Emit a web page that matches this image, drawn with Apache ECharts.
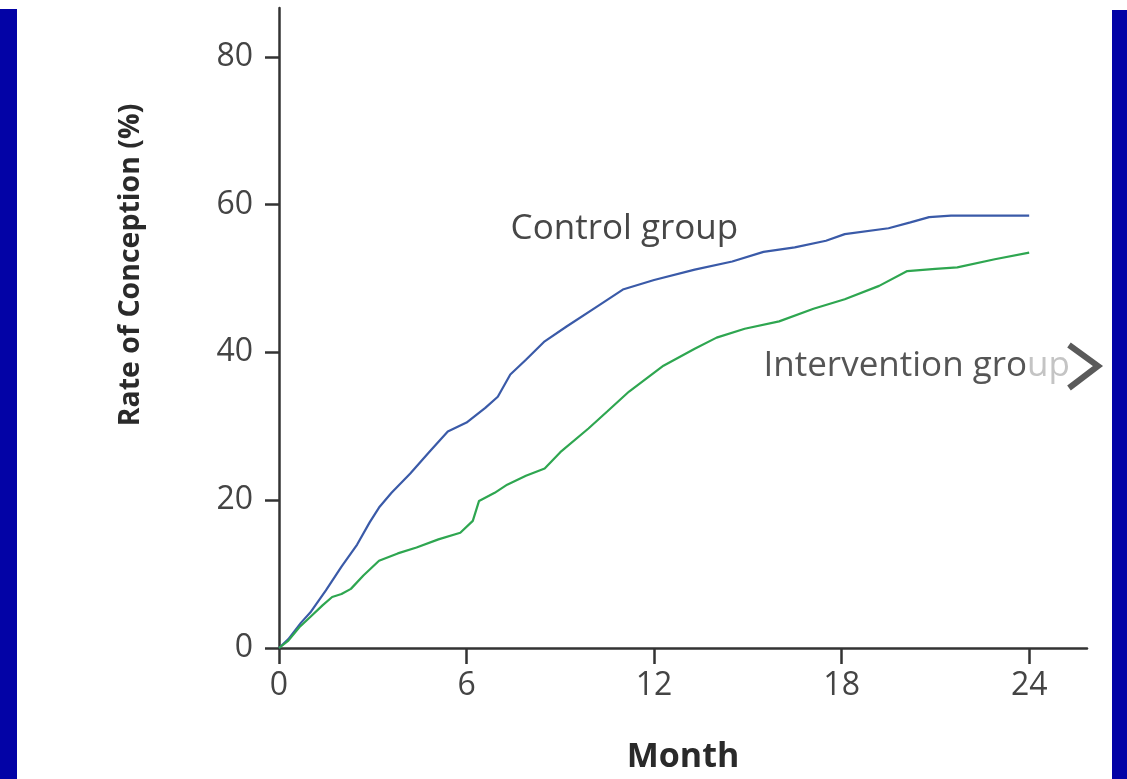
<!DOCTYPE html>
<html>
<head>
<meta charset="utf-8">
<script src="https://cdn.jsdelivr.net/npm/echarts@6/dist/echarts.min.js"></script>
<style>
html,body{margin:0;padding:0;background:#fff;}
#c{width:1127px;height:779px;}
</style>
</head>
<body>
<div id="c"></div>
<script>
// ---- data ----
const xTicks = [0, 6, 12, 18, 24];
const yTicks = [0, 20, 40, 60, 80];
const seriesNames = ['Control group', 'Intervention group'];
const controlMonths = [0,0.3,0.7,1.0,1.5,2.0,2.5,2.9,3.2,3.6,4.2,4.8,5.4,6.0,6.6,7.0,7.4,7.9,8.5,9.2,10.1,11.0,12.0,13.3,14.5,15.5,16.5,17.5,18.1,19.5,20.2,20.8,21.5,24.0];
const controlRate   = [0,1.2,3.4,4.8,7.8,11.0,14.0,17.0,19.0,21.0,23.6,26.5,29.3,30.5,32.5,34.0,37.0,39.0,41.5,43.5,46.0,48.5,49.8,51.2,52.3,53.6,54.2,55.1,56.0,56.8,57.6,58.3,58.5,58.5];
const interMonths = [0,0.3,0.65,1.0,1.4,1.7,2.0,2.3,2.7,3.2,3.8,4.4,5.1,5.8,6.2,6.4,6.9,7.3,7.9,8.5,9.0,9.9,10.5,11.2,12.3,13.3,14.0,14.9,16.0,17.1,18.1,19.2,20.1,21.0,21.7,22.9,24.0];
const interRate   = [0,1.0,2.8,4.2,5.8,6.9,7.3,8.0,9.8,11.8,12.8,13.6,14.7,15.6,17.2,19.9,21.0,22.1,23.3,24.3,26.5,29.7,32.0,34.7,38.2,40.5,42.0,43.2,44.2,45.9,47.2,49.0,51.0,51.3,51.5,52.6,53.5];
const xTitle = 'Month';
const yTitle = 'Rate of Conception (%)';
// annotation anchors in data coordinates
const controlLabelAt = [11.05, 56.7];
const interLabelAt = [15.5, 38.1];

const pair = (xs, ys) => xs.map((x, i) => [x, ys[i]]);

const chart = echarts.init(document.getElementById('c'), null, {renderer: 'canvas'});
const FONT = '"Open Sans", "DejaVu Sans", sans-serif';
const axisCol = '#333';
const textCol = '#444';

chart.setOption({
  animation: false,
  backgroundColor: '#ffffff',
  grid: {left: 279, right: 40, top: 8, bottom: 129, containLabel: false},
  xAxis: {
    type: 'value', min: 0, max: 25.85,
    name: xTitle, nameLocation: 'middle', nameGap: 92,
    nameTextStyle: {fontFamily: FONT, fontSize: 34, fontWeight: 'bold', color: '#2a2a2a'},
    axisLine: {show: true, onZero: false, lineStyle: {color: axisCol, width: 2.5}},
    axisTick: {show: true, length: 16, customValues: xTicks, lineStyle: {color: axisCol, width: 2.5}},
    axisLabel: {customValues: xTicks, margin: 22, fontFamily: FONT, fontSize: 32, color: textCol},
    splitLine: {show: false}
  },
  yAxis: {
    type: 'value', min: 0, max: 86.6,
    axisLine: {show: true, onZero: false, lineStyle: {color: axisCol, width: 2.5}},
    axisTick: {show: true, length: 14, customValues: yTicks, lineStyle: {color: axisCol, width: 2.5}},
    axisLabel: {customValues: yTicks, margin: 26, fontFamily: FONT, fontSize: 32, color: textCol},
    splitLine: {show: false}
  },
  series: [
    {name: seriesNames[0], type: 'line', data: pair(controlMonths, controlRate), showSymbol: false,
     lineStyle: {color: '#3a5aa8', width: 2.2}, itemStyle: {color: '#3a5aa8'}},
    {name: seriesNames[1], type: 'line', data: pair(interMonths, interRate), showSymbol: false,
     lineStyle: {color: '#2ea650', width: 2.2}, itemStyle: {color: '#2ea650'}}
  ]
});

const pc = chart.convertToPixel({gridIndex: 0}, controlLabelAt);
const pi = chart.convertToPixel({gridIndex: 0}, interLabelAt);

chart.setOption({
  graphic: [
    {type: 'rect', left: 0, top: 9, shape: {width: 17, height: 770}, style: {fill: '#0303a6'}, z: 10},
    {type: 'rect', left: 1112, top: 10, shape: {width: 15, height: 769}, style: {fill: '#0303a6'}, z: 10},
    {type: 'text', x: 131, y: 265, rotation: Math.PI / 2,
     style: {text: yTitle, font: 'bold 28.5px ' + FONT, fill: '#2a2a2a', textAlign: 'center', textVerticalAlign: 'middle'}},
    {type: 'text', x: pc[0], y: pc[1],
     style: {text: seriesNames[0], font: '35px ' + FONT, fill: '#474747', textAlign: 'center', textVerticalAlign: 'middle'}},
    {type: 'text', x: pi[0], y: pi[1],
     style: {text: '{a|Intervention gro}{b|up}',
       rich: {a: {font: '35px ' + FONT, fill: '#555'}, b: {font: '35px ' + FONT, fill: '#c4c4c4'}},
       textAlign: 'left', textVerticalAlign: 'middle'}},
    {type: 'polyline', shape: {points: [[1069, 345], [1098, 366], [1069, 388]]},
     style: {stroke: '#5a5a5a', lineWidth: 6, fill: null}, z: 11}
  ]
});
</script>
</body>
</html>
